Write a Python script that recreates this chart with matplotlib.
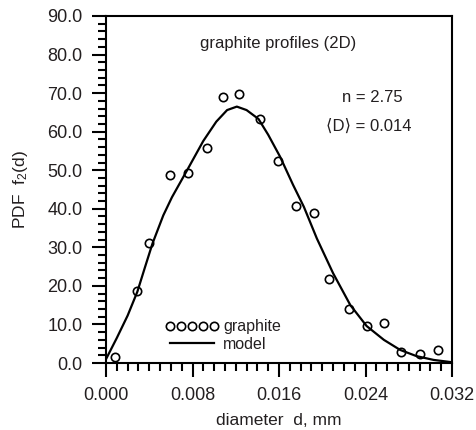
import numpy as np
import matplotlib
matplotlib.use("Agg")
import matplotlib.pyplot as plt
from matplotlib.ticker import MultipleLocator, FormatStrFormatter

# measured points (graphite)
d_obs = [0.0008, 0.0029, 0.0040, 0.0059, 0.0076, 0.0093, 0.0108, 0.0123, 0.0142, 0.0159,
         0.0176, 0.0192, 0.0206, 0.0225, 0.0241, 0.0257, 0.0273, 0.0290, 0.0307]
f_obs = [1.5, 18.7, 31.2, 48.8, 49.2, 55.7, 69.1, 69.7, 63.4, 52.4,
         40.7, 38.8, 21.7, 13.9, 9.6, 10.3, 2.9, 2.3, 3.4]

# model curve
d_mod = [0.0, 0.0010, 0.0020, 0.0029, 0.0036, 0.0043, 0.0053, 0.0061, 0.0075, 0.0090,
         0.0102, 0.0112, 0.0121, 0.0130, 0.0141, 0.0150, 0.0161, 0.0173, 0.0183, 0.0195,
         0.0210, 0.0226, 0.0241, 0.0257, 0.0272, 0.0287, 0.0303, 0.0320]
f_mod = [1.0, 6.5, 12.3, 18.5, 24.8, 31.0, 38.3, 43.0, 50.0, 57.6,
         62.6, 65.6, 66.5, 65.6, 63.3, 59.2, 53.5, 46.2, 40.5, 32.3,
         23.3, 15.0, 9.6, 6.0, 3.4, 1.8, 0.8, 0.2]

ink = '#231f20'
plt.rcParams['font.family'] = ['Liberation Sans', 'DejaVu Sans']
plt.rcParams['mathtext.default'] = 'regular'

fig = plt.figure(figsize=(4.76, 4.30), dpi=100)
ax = fig.add_axes([0.2227, 0.1558, 0.7269, 0.8070])

ax.plot(d_obs, f_obs, 'o', ms=6, mfc='none', mec='black', mew=1.2, label='graphite')
ax.plot(d_mod, f_mod, '-', color='black', lw=1.6, label='model')

ax.set_xlim(0, 0.032)
ax.set_ylim(0, 90)
ax.xaxis.set_major_locator(MultipleLocator(0.008))
ax.xaxis.set_minor_locator(MultipleLocator(0.001))
ax.yaxis.set_major_locator(MultipleLocator(10))
ax.yaxis.set_minor_locator(MultipleLocator(2))
ax.xaxis.set_major_formatter(FormatStrFormatter('%.3f'))
ax.yaxis.set_major_formatter(FormatStrFormatter('%.1f'))
ax.tick_params(which='major', direction='out', length=10, width=1.5, labelsize=13,
               colors='black', labelcolor=ink, pad=7)
ax.tick_params(which='minor', direction='out', length=5.5, width=1.5)
for s in ax.spines.values():
    s.set_linewidth(1.5)

ax.set_xlabel('diameter  d, mm', fontsize=12.5, color=ink, labelpad=7)
ax.set_ylabel('PDF  f$_2$(d)', fontsize=12.5, color=ink, labelpad=12)

ax.text(0.497, 0.92, 'graphite profiles (2D)', transform=ax.transAxes,
        ha='center', va='center', fontsize=12, color=ink)
ax.text(0.77, 0.765, 'n = 2.75', transform=ax.transAxes,
        ha='center', va='center', fontsize=12, color=ink)
ax.text(0.76, 0.683, '\u27e8D\u27e9 = 0.014', transform=ax.transAxes,
        ha='center', va='center', fontsize=12, color=ink)

ax.legend(loc='lower left', bbox_to_anchor=(0.14, 0.0), frameon=False, numpoints=5,
          handlelength=3.3, handletextpad=0.3, labelspacing=0.15, fontsize=11.5,
          labelcolor=ink, borderpad=0.2)

fig.savefig('out.png', dpi=100)
